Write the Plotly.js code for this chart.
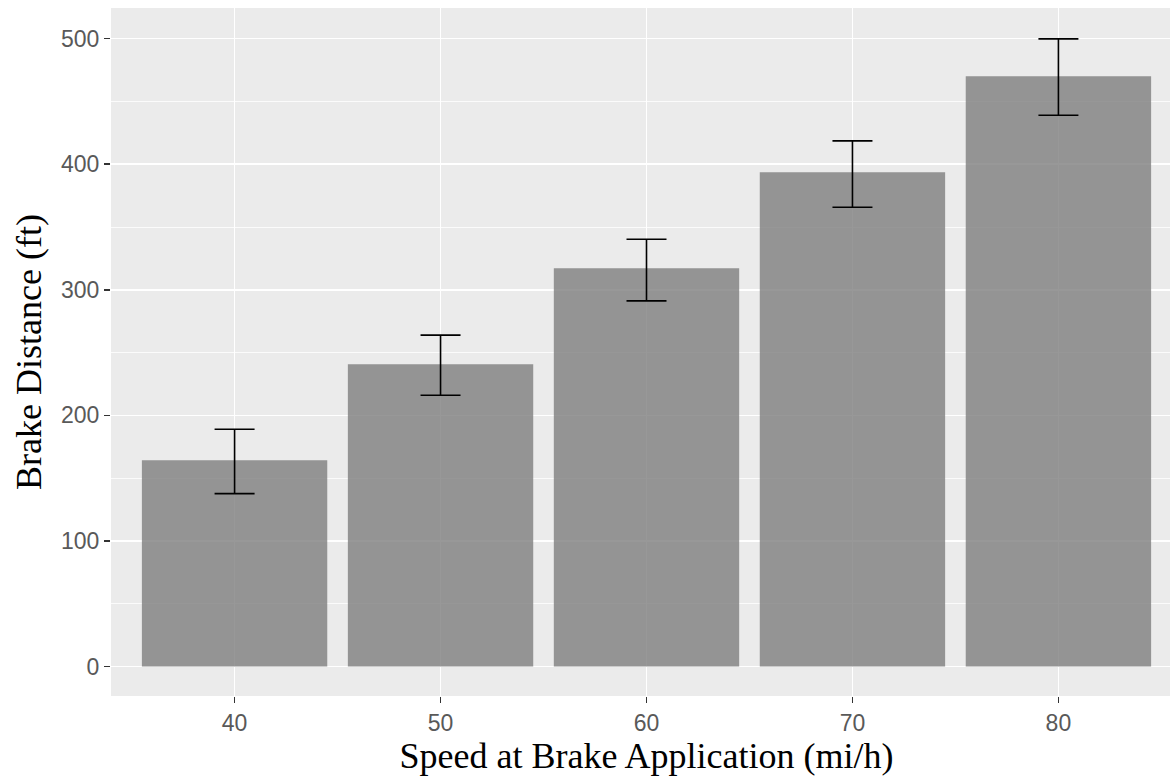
<!DOCTYPE html>
<html>
<head>
<meta charset="utf-8">
<script src="https://cdn.plot.ly/plotly-3.0.1.min.js"></script>
<style>
  html, body { margin: 0; padding: 0; overflow: hidden; background: #fff; }
  #chart { width: 1182px; height: 782px; }
</style>
</head>
<body>
<div id="chart"></div>
<script>
// Mean brake distance by speed, with upper/lower error bounds
const speeds = ['40', '50', '60', '70', '80'];
const meanDistance = [164.3, 240.8, 317.2, 393.6, 470.0];
const upperBound = [189.0, 263.9, 340.3, 418.6, 499.8];
const lowerBound = [137.7, 216.1, 291.2, 365.8, 439.0];

const errPlus = meanDistance.map((m, i) => upperBound[i] - m);
const errMinus = meanDistance.map((m, i) => m - lowerBound[i]);

const trace = {
  type: 'bar',
  x: speeds,
  y: meanDistance,
  width: 0.9,
  marker: { color: 'rgba(126,126,126,0.8)', line: { width: 0 } },
  error_y: {
    type: 'data',
    symmetric: false,
    array: errPlus,
    arrayminus: errMinus,
    color: '#000000',
    thickness: 1.6,
    width: 20
  },
  hoverinfo: 'skip'
};

const tickFont = { family: 'Liberation Sans, Arial, sans-serif', size: 23, color: '#595959' };
const titleFont = { family: 'Liberation Serif, Times New Roman, serif', size: 36, color: '#000000' };

const layout = {
  width: 1182,
  height: 782,
  margin: { l: 111, r: 0, t: 8, b: 86 },
  paper_bgcolor: '#FFFFFF',
  plot_bgcolor: '#EBEBEB',
  showlegend: false,
  bargap: 0.1,
  xaxis: {
    type: 'category',
    range: [-0.6, 4.6],
    showgrid: true,
    gridcolor: '#FFFFFF',
    gridwidth: 1.5,
    zeroline: false,
    showline: false,
    ticks: 'outside',
    ticklen: 6,
    tickwidth: 1.5,
    tickcolor: '#333333',
    tickfont: tickFont,
    title: { text: 'Speed at Brake Application (mi/h)', font: titleFont, standoff: 2 }
  },
  yaxis: {
    range: [-23.4, 524.4],
    tickvals: [0, 100, 200, 300, 400, 500],
    showgrid: true,
    gridcolor: '#FFFFFF',
    gridwidth: 1.5,
    zeroline: false,
    showline: false,
    ticks: 'outside',
    ticklen: 6,
    tickwidth: 1.5,
    tickcolor: '#333333',
    tickfont: tickFont,
    minor: { tickvals: [50, 150, 250, 350, 450], showgrid: true, gridcolor: '#FFFFFF', gridwidth: 0.8, ticks: '' },
    title: { text: 'Brake Distance (ft)', font: titleFont, standoff: 8 }
  }
};

Plotly.newPlot('chart', [trace], layout, { displayModeBar: false, staticPlot: true });
</script>
</body>
</html>
